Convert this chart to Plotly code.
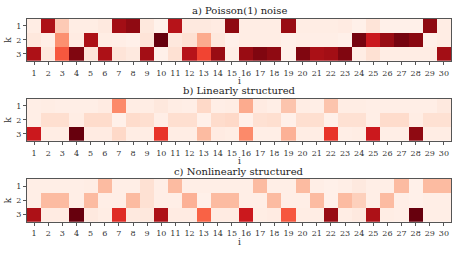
import plotly.graph_objects as go

cols = list(range(1, 31))
ks = [1, 2, 3]

# panel a: Poisson(1) noise  (rows k=1,2,3)
a_k1 = [0.05,0.85,0.20,0.05,0.05,0.07,0.88,0.92,0.08,0.02,0.82,0.07,0.07,0.06,0.92,0.05,0.05,0.05,0.90,0.05,0.05,0.05,0.06,0.03,0.10,0.03,0.03,0.03,0.92,0.05]
a_k2 = [0.08,0.04,0.38,0.06,0.85,0.05,0.04,0.03,0.10,1.00,0.08,0.12,0.30,0.08,0.03,0.05,0.05,0.05,0.03,0.04,0.04,0.04,0.03,0.97,0.75,0.90,0.97,0.93,0.03,0.05]
a_k3 = [0.85,0.08,0.55,0.95,0.10,0.85,0.10,0.07,0.88,0.03,0.12,0.82,0.60,0.90,0.04,0.90,0.95,0.92,0.03,0.95,0.86,0.88,0.95,0.05,0.12,0.05,0.05,0.05,0.05,0.88]

# panel b: Linearly structured
b_k1 = [0.04,0.05,0.04,0.04,0.04,0.06,0.40,0.05,0.05,0.08,0.05,0.04,0.15,0.04,0.05,0.30,0.06,0.04,0.22,0.05,0.04,0.22,0.05,0.05,0.04,0.04,0.04,0.04,0.04,0.07]
b_k2 = [0.04,0.13,0.13,0.05,0.14,0.14,0.03,0.14,0.13,0.04,0.13,0.13,0.03,0.14,0.15,0.03,0.12,0.13,0.03,0.13,0.13,0.03,0.12,0.12,0.04,0.14,0.14,0.05,0.12,0.12]
b_k3 = [0.75,0.05,0.05,1.00,0.06,0.06,0.15,0.05,0.05,0.65,0.05,0.05,0.25,0.06,0.05,0.40,0.04,0.04,0.28,0.05,0.05,0.65,0.04,0.05,0.75,0.04,0.04,0.92,0.05,0.05]

# panel c: Nonlinearly structured
c_k1 = [0.04,0.04,0.04,0.04,0.05,0.25,0.04,0.04,0.12,0.04,0.25,0.04,0.04,0.04,0.04,0.04,0.25,0.04,0.04,0.25,0.04,0.03,0.04,0.07,0.04,0.04,0.25,0.03,0.25,0.25]
c_k2 = [0.04,0.25,0.25,0.04,0.25,0.04,0.04,0.25,0.12,0.04,0.04,0.28,0.03,0.25,0.25,0.04,0.04,0.25,0.04,0.04,0.25,0.03,0.25,0.18,0.04,0.25,0.04,0.03,0.04,0.04]
c_k3 = [0.85,0.06,0.06,1.00,0.07,0.05,0.68,0.07,0.08,0.85,0.06,0.06,0.52,0.06,0.06,0.75,0.05,0.06,0.55,0.05,0.05,0.90,0.05,0.07,0.85,0.05,0.04,1.00,0.04,0.04]

titles = ["a) Poisson(1) noise", "b) Linearly structured", "c) Nonlinearly structured"]

reds = [[0.0,"#fff5f0"],[0.125,"#fee0d2"],[0.25,"#fcbba1"],[0.375,"#fc9272"],
        [0.5,"#fb6a4a"],[0.625,"#ef3b2c"],[0.75,"#cb181d"],[0.875,"#a50f15"],[1.0,"#67000d"]]

W, H = 457, 253
panels = [(a_k1, a_k2, a_k3), (b_k1, b_k2, b_k3), (c_k1, c_k2, c_k3)]
# pixel tops/bottoms of each plot area
tops = [18.7, 98.7, 179.0]
bots = [61.0, 141.0, 221.7]
L, R = 27, 6

FONT = "DejaVu Serif"
fig = go.Figure()
for n, (r1, r2, r3) in enumerate(panels):
    sfx = "" if n == 0 else str(n + 1)
    fig.add_trace(go.Heatmap(
        z=[r1, r2, r3], x=cols, y=ks, colorscale=reds, zmin=0, zmax=1,
        showscale=False, xaxis="x" + sfx, yaxis="y" + sfx,
        hoverinfo="skip"))
    dom = [1 - bots[n] / H, 1 - tops[n] / H]
    common = dict(showline=True, mirror=True, linecolor="#555555", linewidth=1,
                  ticks="outside", ticklen=3, tickcolor="#555555", showgrid=False,
                  zeroline=False, automargin=False,
                  tickfont=dict(family=FONT, size=8, color="#333333"))
    fig.update_layout(**{
        "xaxis" + sfx: dict(domain=[0, 1], anchor="y" + sfx, tickmode="array",
                            tickvals=cols, ticktext=[str(c) for c in cols],
                            range=[0.5, 30.5], ticklabelstandoff=1,
                            **common),
        "yaxis" + sfx: dict(domain=dom, anchor="x" + sfx, tickmode="array",
                            tickvals=ks, ticktext=["1", "2", "3"],
                            range=[3.5, 0.5],
                            **common),
    })
    # title
    fig.add_annotation(text=titles[n], x=0.5, y=1 - (tops[n] - 8) / H, xref="paper", yref="paper",
                       xanchor="center", yanchor="middle", showarrow=False,
                       font=dict(family=FONT, size=10, color="#222222"))
    # x axis label "i"
    fig.add_annotation(text="i", x=0.5, y=1 - (bots[n] + 20) / H, xref="paper", yref="paper",
                       xanchor="center", yanchor="middle", showarrow=False,
                       font=dict(family=FONT, size=9, color="#333333"))
    # y axis label "k"
    fig.add_annotation(text="k", x=-19 / (W - L - R), y=(dom[0] + dom[1]) / 2, xref="paper", yref="paper",
                       xanchor="center", yanchor="middle", showarrow=False, textangle=-90,
                       font=dict(family=FONT, size=9, color="#333333"))

fig.update_layout(width=W, height=H, margin=dict(l=L, r=R, t=0, b=0),
                  paper_bgcolor="white", plot_bgcolor="white")
fig.write_html("out.html", config={"displayModeBar": False, "staticPlot": True},
               post_script="document.body.style.margin='0';document.body.style.padding='0';")
